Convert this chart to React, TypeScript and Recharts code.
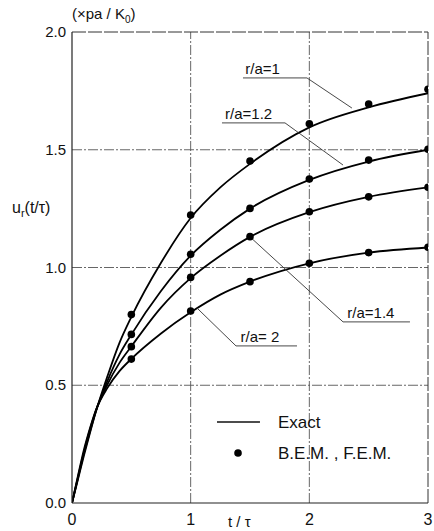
import React from "react";
import {
  ComposedChart,
  Line,
  Scatter,
  XAxis,
  YAxis,
  ReferenceLine,
  ReferenceDot,
} from "recharts";

// time axis for the exact curves
const tExact = [0, 0.05, 0.1, 0.15, 0.2, 0.3, 0.4, 0.5, 0.75, 1, 1.25, 1.5, 2, 2.5, 3];
const exact1 = [0, 0.1, 0.2, 0.295, 0.385, 0.54, 0.68, 0.79, 1.02, 1.21, 1.34, 1.44, 1.595, 1.68, 1.74];
const exact12 = [0, 0.105, 0.21, 0.3, 0.388, 0.52, 0.63, 0.715, 0.9, 1.05, 1.16, 1.25, 1.372, 1.45, 1.5];
const exact14 = [0, 0.11, 0.215, 0.31, 0.39, 0.505, 0.595, 0.665, 0.83, 0.955, 1.05, 1.13, 1.235, 1.3, 1.34];
const exact2 = [0, 0.115, 0.225, 0.315, 0.393, 0.49, 0.56, 0.612, 0.72, 0.81, 0.885, 0.94, 1.018, 1.063, 1.085];

// numerical (B.E.M., F.E.M.) points
const tNum = [0.5, 1, 1.5, 2, 2.5, 3];
const num1 = [0.8, 1.223, 1.452, 1.61, 1.694, 1.757];
const num12 = [0.716, 1.056, 1.251, 1.376, 1.456, 1.502];
const num14 = [0.664, 0.958, 1.131, 1.237, 1.3, 1.341];
const num2 = [0.611, 0.815, 0.94, 1.018, 1.063, 1.086];

const xTicks = [0, 1, 2, 3];
const yTicks = [0, 0.5, 1, 1.5, 2];
const yTickLabels = ["0.0", "0.5", "1.0", "1.5", "2.0"];
const xGrid = [1, 2];
const yGrid = [0.5, 1, 1.5];

// annotation labels: text, text anchor point, underline start/end, leader end
const annLabels = ["r/a=1", "r/a=1.2", "r/a=1.4", "r/a= 2"];
const annText = [
  { x: 1.46, y: 1.82 },
  { x: 1.29, y: 1.63 },
  { x: 2.32, y: 0.785 },
  { x: 1.42, y: 0.683 },
];
const annUnder = [
  [{ x: 1.441, y: 1.805 }, { x: 1.98, y: 1.805 }],
  [{ x: 1.264, y: 1.614 }, { x: 1.795, y: 1.614 }],
  [{ x: 2.284, y: 0.769 }, { x: 2.848, y: 0.769 }],
  [{ x: 1.382, y: 0.667 }, { x: 1.896, y: 0.667 }],
];
const annLeader = [
  [{ x: 1.98, y: 1.805 }, { x: 2.359, y: 1.677 }],
  [{ x: 1.795, y: 1.614 }, { x: 2.284, y: 1.435 }],
  [{ x: 2.284, y: 0.769 }, { x: 1.5, y: 1.13 }],
  [{ x: 1.382, y: 0.667 }, { x: 1.053, y: 0.828 }],
];

const legendLine = [{ x: 1.222, y: 0.344 }, { x: 1.584, y: 0.344 }];
const legendDot = { x: 1.399, y: 0.212 };
const legendTexts = [
  { x: 1.736, y: 0.344, text: "Exact" },
  { x: 1.736, y: 0.212, text: "B.E.M. , F.E.M." },
];

const FONT = "'Liberation Sans', 'DejaVu Sans', sans-serif";

const mk = (xs: number[], ys: number[]) => xs.map((t, i) => ({ t, u: ys[i] }));
const exactSeries = [exact1, exact12, exact14, exact2].map((s) => mk(tExact, s));
const numSeries = [num1, num12, num14, num2].map((s) => mk(tNum, s));

const XTick = (props: any) => {
  const { x, y, payload } = props;
  return (
    <text x={x} y={y + 14} textAnchor="middle" fontSize={16} fill="#111" fontFamily={FONT}>
      {payload.value}
    </text>
  );
};

const YTick = (props: any) => {
  const { x, y, payload } = props;
  const idx = yTicks.indexOf(payload.value);
  return (
    <text x={x + 2} y={y + 5} textAnchor="end" fontSize={15} fill="#111" fontFamily={FONT}>
      {yTickLabels[idx]}
    </text>
  );
};

const textShape = (label: string, size: number) => (p: any) => (
  <text x={p.cx} y={p.cy} fontSize={size} fill="#111" fontFamily={FONT} textAnchor="start">
    {label}
  </text>
);

const legendTextShape = (label: string) => (p: any) => (
  <text x={p.cx} y={p.cy + 6} fontSize={17} fill="#111" fontFamily={FONT} textAnchor="start">
    {label}
  </text>
);

export default function App() {
  return (
    <div style={{ position: "absolute", left: 0, top: 0, width: 434, height: 531, background: "#fff" }}>
      <ComposedChart
        width={434}
        height={531}
        margin={{ top: 32, right: 6, bottom: 0, left: 0 }}
      >
        <XAxis
          type="number"
          dataKey="t"
          domain={[0, 3]}
          ticks={xTicks}
          tick={<XTick />}
          tickLine={false}
          axisLine={{ stroke: "#222", strokeWidth: 1.2 }}
          height={28}
          allowDataOverflow
        />
        <YAxis
          type="number"
          dataKey="u"
          domain={[0, 2]}
          ticks={yTicks}
          tick={<YTick />}
          tickLine={false}
          axisLine={{ stroke: "#222", strokeWidth: 1.2 }}
          width={72}
          allowDataOverflow
        />
        {xGrid.map((v) => (
          <ReferenceLine key={"xg" + v} x={v} stroke="#555" strokeWidth={0.9} strokeDasharray="10 2 2 2" />
        ))}
        {yGrid.map((v) => (
          <ReferenceLine key={"yg" + v} y={v} stroke="#555" strokeWidth={0.9} strokeDasharray="10 2 2 2" />
        ))}
        <ReferenceLine y={2} stroke="#333" strokeWidth={1} strokeDasharray="14 2" />
        <ReferenceLine x={3} stroke="#333" strokeWidth={1} strokeDasharray="14 2" />

        {exactSeries.map((d, i) => (
          <Line
            key={"ex" + i}
            data={d}
            dataKey="u"
            type="monotone"
            stroke="#000"
            strokeWidth={1.8}
            dot={false}
            isAnimationActive={false}
          />
        ))}
        {numSeries.map((d, i) => (
          <Scatter
            key={"nm" + i}
            data={d}
            dataKey="u"
            fill="#000"
            shape={(p: any) => <circle cx={p.cx} cy={p.cy} r={3.8} fill="#000" />}
            isAnimationActive={false}
          />
        ))}

        {annLabels.map((lab, i) => (
          <ReferenceLine
            key={"au" + i}
            segment={annUnder[i]}
            stroke="#333"
            strokeWidth={0.9}
            ifOverflow="visible"
          />
        ))}
        {annLabels.map((lab, i) => (
          <ReferenceLine
            key={"al" + i}
            segment={annLeader[i]}
            stroke="#333"
            strokeWidth={0.9}
            ifOverflow="visible"
          />
        ))}
        {annLabels.map((lab, i) => (
          <ReferenceDot
            key={"at" + i}
            x={annText[i].x}
            y={annText[i].y}
            r={0}
            ifOverflow="visible"
            shape={textShape(lab, 15)}
          />
        ))}

        <ReferenceLine segment={legendLine} stroke="#111" strokeWidth={1.5} ifOverflow="visible" />
        <ReferenceDot
          x={legendDot.x}
          y={legendDot.y}
          r={0}
          ifOverflow="visible"
          shape={(p: any) => <circle cx={p.cx} cy={p.cy} r={3.8} fill="#000" />}
        />
        {legendTexts.map((lt, i) => (
          <ReferenceDot
            key={"lt" + i}
            x={lt.x}
            y={lt.y}
            r={0}
            ifOverflow="visible"
            shape={legendTextShape(lt.text)}
          />
        ))}
      </ComposedChart>
      <div
        style={{
          position: "absolute",
          left: 72,
          top: 5,
          fontFamily: FONT,
          fontSize: 15,
          color: "#111",
          whiteSpace: "nowrap",
        }}
      >
        (×pa / K<sub style={{ fontSize: 10 }}>0</sub>)
      </div>
      <div
        style={{
          position: "absolute",
          left: 12,
          top: 199,
          fontFamily: FONT,
          fontSize: 16,
          color: "#111",
          whiteSpace: "nowrap",
        }}
      >
        u<sub style={{ fontSize: 11 }}>r</sub>(t/τ)
      </div>
      <div
        style={{
          position: "absolute",
          left: 228,
          top: 513,
          fontFamily: FONT,
          fontSize: 15,
          color: "#111",
          whiteSpace: "nowrap",
        }}
      >
        t / τ
      </div>
    </div>
  );
}
